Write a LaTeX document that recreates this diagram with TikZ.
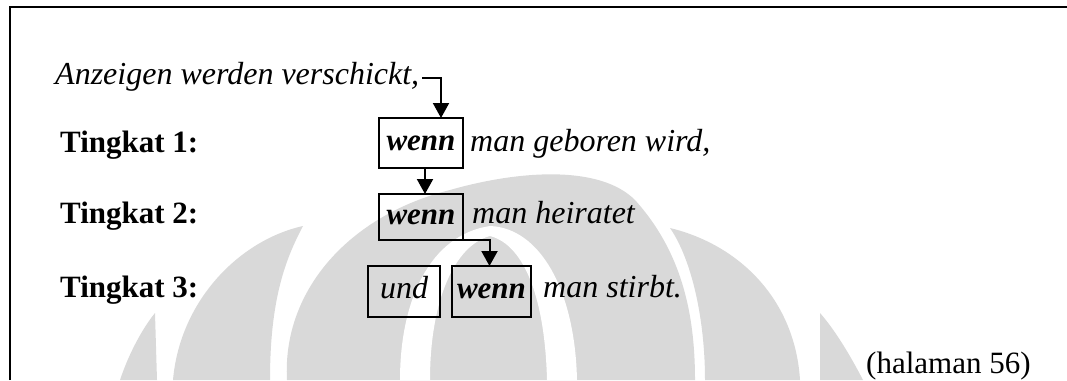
\documentclass[tikz,border=0pt]{standalone}
\usepackage{fontspec}
\setmainfont{Liberation Serif}
\usetikzlibrary{arrows.meta}
\definecolor{wm}{RGB}{217,217,217}
\begin{document}
\begin{tikzpicture}[x=1pt,y=-1pt,
  lbl/.style={anchor=base west, inner sep=0pt, font=\fontsize{31}{36}\selectfont\bfseries},
  itx/.style={anchor=base west, inner sep=0pt, font=\fontsize{32}{38}\selectfont\itshape},
  rgl/.style={anchor=base west, inner sep=0pt, font=\fontsize{31}{36}\selectfont},
  boxbase/.style={draw, line width=2pt, inner sep=0pt, outer sep=0pt, text height=14pt, text depth=0pt},
  wbox/.style={boxbase, font=\fontsize{31}{36}\selectfont\bfseries\itshape},
  ibox/.style={boxbase, font=\fontsize{32}{38}\selectfont\itshape},
  conn/.style={line width=2pt, -{Triangle[width=16pt,length=15pt]}},
  frame/.style={line width=2.5pt},
  mark/.style={fill=wm, draw=none},
]
\useasboundingbox (0,0) rectangle (1067,380);
% watermark
\fill[wm] (120,380) .. controls (130,350) and (145,325) .. (155,313) -- (157,380) -- cycle;
\fill[wm] (173,380) .. controls (180,300) and (240,240) .. (303,226) .. controls (285,260) and (270,300) .. (270,380) -- cycle;
\fill[wm] (287,380) .. controls (282,290) and (350,215) .. (450,190) .. controls (520,170) and (600,165) .. (635,200) .. controls (680,250) and (695,310) .. (695,380) -- cycle;
\fill[white] (400,380) .. controls (400,300) and (430,235) .. (490,226) .. controls (540,228) and (575,290) .. (577,380) -- (547,380) .. controls (545,300) and (525,245) .. (490,236) .. controls (455,245) and (430,300) .. (430,380) -- cycle;
\fill[wm] (670,228) .. controls (740,245) and (795,300) .. (800,380) -- (705,380) .. controls (705,320) and (692,260) .. (670,228) -- cycle;
\fill[wm] (820,313) .. controls (835,330) and (850,355) .. (863,380) -- (820,380) -- cycle;
% frame
\draw[frame] (10,380) -- (10,7) -- (1067,7);
% texts
\node[itx] (anz) at (55,84) {Anzeigen werden verschickt,};
\node[lbl] (t1) at (60,152) {Tingkat 1:};
\node[lbl] (t2) at (60,223) {Tingkat 2:};
\node[lbl] (t3) at (60,297) {Tingkat 3:};
\node[wbox, minimum width=84pt, minimum height=50pt] (w1) at (421,143) {wenn};
\node[wbox, minimum width=84pt, minimum height=46pt] (w2) at (421,217) {wenn};
\node[ibox, minimum width=72pt, minimum height=51pt] (und) at (404,291.5) {und};
\node[wbox, minimum width=79pt, minimum height=51pt] (w3) at (491.5,291.5) {wenn};
\node[itx] (m1) at (470,151) {man geboren wird,};
\node[itx] (m2) at (472,223) {man heiratet};
\node[itx] (m3) at (543,297) {man stirbt.};
\node[rgl] (hal) at (866,373) {(halaman 56)};
% connectors
\draw[conn] ([xshift=3pt,yshift=6pt]anz.base east) -| ([xshift=20pt]w1.north);
\draw[conn] ([xshift=4pt]w1.south) -- ([xshift=4pt]w2.north);
\draw[conn] (w2.south east) -| ([xshift=-2pt]w3.north);
\end{tikzpicture}
\end{document}
